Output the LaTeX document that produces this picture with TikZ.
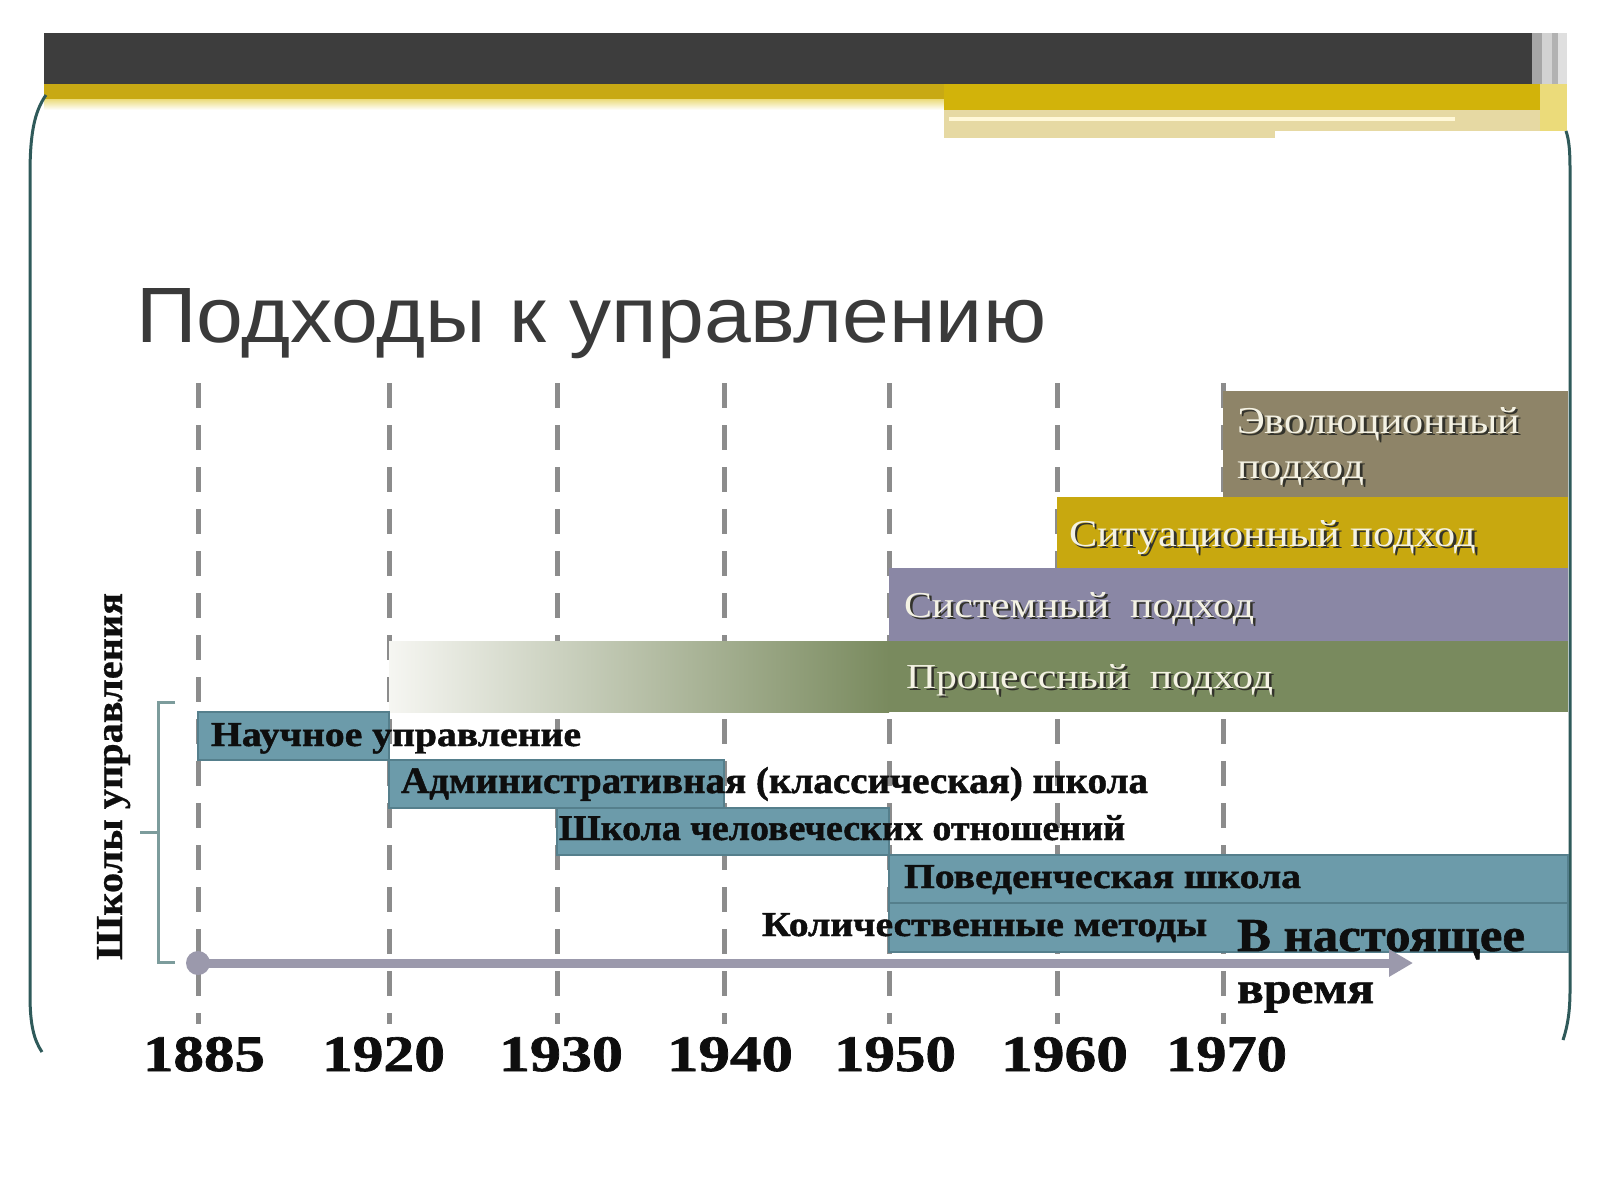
\documentclass[tikz,border=0pt]{standalone}
\usepackage{fontspec}
\setmainfont{Liberation Serif}
\newfontfamily\titlefont{Liberation Sans}
\newfontfamily\heavyfont[FakeBold=1.2]{Liberation Serif}
\newfontfamily\vlabfont[FakeBold=0.6]{Liberation Serif}
\usetikzlibrary{arrows.meta}
\newlength\pxu
\setlength\pxu{0.5pt}
\definecolor{darkbar}{HTML}{3D3D3D}
\definecolor{gold1}{HTML}{C8A914}
\definecolor{gold2}{HTML}{D2B30A}
\definecolor{goldfade}{HTML}{EBDB7A}
\definecolor{pale}{HTML}{E6D9A3}
\definecolor{paleline}{HTML}{FFF8D8}
\definecolor{framec}{HTML}{2F5A5A}
\definecolor{titlec}{HTML}{3A3A3A}
\definecolor{evolc}{HTML}{8E8468}
\definecolor{situc}{HTML}{C8A80F}
\definecolor{sistc}{HTML}{8A87A5}
\definecolor{procc}{HTML}{798A5E}
\definecolor{procl}{HTML}{F6F6F2}
\definecolor{schoolc}{HTML}{6C9BAA}
\definecolor{schoolb}{HTML}{557F8C}
\definecolor{dashc}{HTML}{8C8C8C}
\definecolor{axisc}{HTML}{9B99AC}
\definecolor{bracketc}{HTML}{7C9C9C}
\definecolor{emblight}{HTML}{F4F2E4}
\definecolor{embshadow}{HTML}{33332C}
\definecolor{inkc}{HTML}{0E0E0E}
\newcommand\fitbox[3]{\resizebox{#1\pxu}{#2\pxu}{#3}}
\newcommand\embtext[3]{\resizebox{#1\pxu}{#2\pxu}{\rlap{\kern0.06em\raisebox{-0.06em}{\color{embshadow}#3}}{\color{emblight}#3}}}
\begin{document}
\begin{tikzpicture}[x=0.5pt,y=-0.5pt,
  every node/.style={inner sep=0pt, outer sep=0pt},
  txt/.style={anchor=base west, text=inkc},
  dashline/.style={draw=dashc, line width=2.5pt, dash pattern=on 12.5pt off 8.5pt},
  schoolbox/.style={fill=schoolc, draw=schoolb, line width=1pt},
  axisline/.style={draw=axisc, line width=4.5pt, -{Triangle[length=12pt,width=13pt]}},
  bracketline/.style={draw=bracketc, line width=1.5pt},
  frameline/.style={draw=framec, line width=1.5pt}]
\useasboundingbox (0,0) rectangle (1600,1200);
\fill[white] (0,0) rectangle (1600,1200);
% top decoration
\fill[darkbar] (44,33) rectangle (1532,84);
\fill[gold1] (44,84) rectangle (944,99);
\shade[top color=goldfade, bottom color=white] (44,99) rectangle (944,110);
\fill[gold2] (944,84) rectangle (1540,110);
\fill[pale] (944,110) rectangle (1540,131);
\fill[pale] (944,131) rectangle (1275,138);
\fill[paleline] (949,117) rectangle (1455,121);
\fill[gray!70] (1532,33) rectangle (1542,84);
\fill[gray!35] (1542,33) rectangle (1552,84);
\fill[gray!60] (1552,33) rectangle (1558,84);
\fill[gray!25] (1558,33) rectangle (1567,84);
\fill[goldfade] (1540,84) rectangle (1567,131);
% frame
\draw[frameline] (46,95) .. controls (34,112) and (30,135) .. (30,175) -- (30,995) .. controls (30,1025) and (34,1040) .. (42,1052);
\draw[frameline] (1566,131) .. controls (1569,140) and (1570,150) .. (1570,170) -- (1570,990) .. controls (1570,1010) and (1568,1025) .. (1563,1040);
% dashed year lines
\foreach \x in {198,389,557,724,889,1057,1223} \draw[dashline] (\x,383) -- (\x,1024);
% approach bars
\fill[evolc] (1223,391) rectangle (1568,497);
\fill[situc] (1057,497) rectangle (1568,568);
\fill[sistc] (889,568) rectangle (1568,641);
\shade[left color=procl, right color=procc] (389,641) rectangle (889,712);
\fill[procc] (888,641) rectangle (1568,712);
% school boxes
\filldraw[schoolbox] (198,712) rectangle (389,760);
\filldraw[schoolbox] (389,760) rectangle (724,808);
\filldraw[schoolbox] (557,808) rectangle (889,855);
\filldraw[schoolbox] (889,855) rectangle (1568,903);
\filldraw[schoolbox] (889,903) rectangle (1568,952);
% bracket
\draw[bracketline] (175,702) -- (158,702) -- (158,962) -- (175,962);
\draw[bracketline] (158,832) -- (140,832);
% axis
\coordinate (ax0) at (198,963);
\coordinate (ax1) at (1413,963);
\fill[axisc] (ax0) circle (12);
\draw[axisline] (ax0) -- (ax1);
% title
\node[txt, text=titlec] (title) at (136,342) {\fitbox{910}{54}{\titlefont Подходы к управлению}};
% approach labels
\node[txt] (evol1) at (1237,433) {\embtext{283}{26}{Эволюционный}};
\node[txt] (evol2) at (1237,478) {\embtext{127}{17}{подход}};
\node[txt] (situ) at (1069,546) {\embtext{407}{26}{Ситуационный подход}};
\node[txt] (sist) at (904,617) {\embtext{350}{25}{Системный\ \ подход}};
\node[txt] (proc) at (906,688) {\embtext{367}{24}{Процессный\ \ подход}};
% school labels
\node[txt] (nauch) at (211,746) {\fitbox{370}{23}{\heavyfont\bfseries Научное управление}};
\node[txt] (admin) at (401,793) {\fitbox{747}{26}{\heavyfont\bfseries Административная (классическая) школа}};
\node[txt] (chel) at (559,840) {\fitbox{566}{25}{\heavyfont\bfseries Школа человеческих отношений}};
\node[txt] (poved) at (904,888) {\fitbox{397}{23}{\heavyfont\bfseries Поведенческая школа}};
\node[txt] (kolich) at (762,936) {\fitbox{445}{23}{\heavyfont\bfseries Количественные методы}};
\node[txt] (now1) at (1237,951) {\fitbox{288}{31}{\heavyfont\bfseries В настоящее}};
\node[txt] (now2) at (1237,1003) {\fitbox{137}{21}{\heavyfont\bfseries время}};
% years
\node[txt] (y1885) at (143,1071) {\fitbox{122}{34}{\heavyfont\bfseries 1885}};
\node[txt] (y1920) at (322,1071) {\fitbox{123}{34}{\heavyfont\bfseries 1920}};
\node[txt] (y1930) at (499,1071) {\fitbox{124}{34}{\heavyfont\bfseries 1930}};
\node[txt] (y1940) at (667,1071) {\fitbox{126}{34}{\heavyfont\bfseries 1940}};
\node[txt] (y1950) at (834,1071) {\fitbox{122}{34}{\heavyfont\bfseries 1950}};
\node[txt] (y1960) at (1001,1071) {\fitbox{127}{34}{\heavyfont\bfseries 1960}};
\node[txt] (y1970) at (1166,1071) {\fitbox{121}{34}{\heavyfont\bfseries 1970}};
% vertical label
\node[anchor=base west, rotate=90, text=inkc] (vlab) at (122,960) {\fitbox{367}{25}{\vlabfont\bfseries Школы управления}};
\end{tikzpicture}
\end{document}
